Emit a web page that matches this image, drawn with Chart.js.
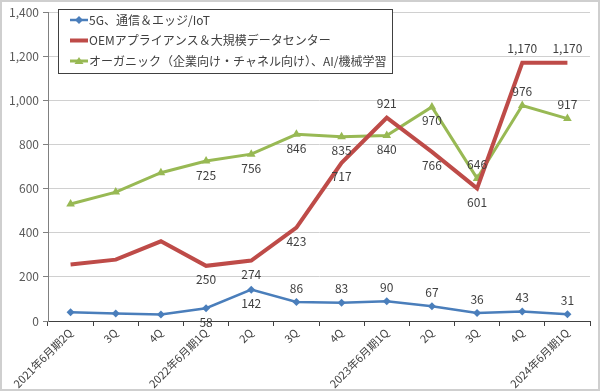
<!DOCTYPE html>
<html>
<head>
<meta charset="utf-8">
<script src="https://cdn.jsdelivr.net/npm/chart.js@4.4.1/dist/chart.umd.min.js"></script>
<style>
  html, body { margin: 0; padding: 0; background: #fff; }
  #wrap { position: relative; width: 600px; height: 391px; }
</style>
</head>
<body>
<div id="wrap"><canvas id="chart" width="600" height="391"></canvas></div>
<script>
// data
const categories = ['2021年6月期2Q', '3Q', '4Q', '2022年6月期1Q', '2Q', '3Q', '4Q', '2023年6月期1Q', '2Q', '3Q', '4Q', '2024年6月期1Q'];
const seriesNames = ['5G、通信＆エッジ/IoT', 'OEMアプライアンス＆大規模データセンター', 'オーガニック（企業向け・チャネル向け）、AI/機械学習'];
const iotValues = [40, 34, 29, 58, 142, 86, 83, 90, 67, 36, 43, 31];
const oemValues = [256, 278, 361, 250, 274, 423, 717, 921, 766, 601, 1170, 1170];
const organicValues = [530, 584, 672, 725, 756, 846, 835, 840, 970, 646, 976, 917];
const yTicks = [0, 200, 400, 600, 800, 1000, 1200, 1400];

// where the value labels go (null = no label)
const iotLabelPos = [null, null, null, 'below', 'below', 'above', 'above', 'above', 'above', 'above', 'above', 'above'];
const oemLabelPos = [null, null, null, 'below', 'below', 'below', 'below', 'above', 'below', 'below', 'above', 'above'];
const organicLabelPos = [null, null, null, 'below', 'below', 'below', 'below', 'below', 'below', 'above', 'above', 'above'];

const BLUE = '#4a7ebb';
const RED = '#be4b48';
const GREEN = '#98b954';
const FONT = "'Noto Sans CJK JP', 'Noto Sans', sans-serif";

const fmt = v => v.toLocaleString('en-US');

// value labels
const valueLabels = {
  id: 'valueLabels',
  afterDatasetsDraw(chart) {
    const ctx = chart.ctx;
    const positions = [iotLabelPos, oemLabelPos, organicLabelPos];
    ctx.save();
    ctx.font = '12px ' + FONT;
    ctx.fillStyle = '#404040';
    ctx.textAlign = 'center';
    ctx.textBaseline = 'middle';
    chart.data.datasets.forEach((ds, i) => {
      const meta = chart.getDatasetMeta(i);
      meta.data.forEach((pt, j) => {
        const pos = positions[i][j];
        if (!pos) return;
        const dy = pos === 'above' ? -14 : 14;
        ctx.fillText(fmt(ds.data[j]), pt.x, pt.y + dy);
      });
    });
    ctx.restore();
  }
};

// legend box like the original (line sample with marker)
const boxLegend = {
  id: 'boxLegend',
  afterDraw(chart) {
    const ctx = chart.ctx;
    const x0 = 58, y0 = 9, w = 334, h = 64;
    ctx.save();
    ctx.fillStyle = '#fff';
    ctx.fillRect(x0, y0, w, h);
    ctx.strokeStyle = '#404040';
    ctx.lineWidth = 1;
    ctx.strokeRect(x0 + 0.5, y0 + 0.5, w, h);
    ctx.font = '12px ' + FONT;
    ctx.textBaseline = 'middle';
    chart.data.datasets.forEach((ds, i) => {
      const y = y0 + 11 + i * 20.5;
      ctx.strokeStyle = ds.borderColor;
      ctx.lineWidth = ds.borderWidth;
      ctx.beginPath();
      ctx.moveTo(70, y);
      ctx.lineTo(88, y);
      ctx.stroke();
      ctx.fillStyle = ds.borderColor;
      if (ds.pointStyle === 'rectRot') {
        ctx.beginPath();
        ctx.moveTo(79, y - 4); ctx.lineTo(83, y); ctx.lineTo(79, y + 4); ctx.lineTo(75, y);
        ctx.closePath(); ctx.fill();
      } else if (ds.pointStyle === 'triangle') {
        ctx.beginPath();
        ctx.moveTo(79, y - 4); ctx.lineTo(83.5, y + 3); ctx.lineTo(74.5, y + 3);
        ctx.closePath(); ctx.fill();
      }
      ctx.fillStyle = '#404040';
      ctx.fillText(ds.label, 89, y);
    });
    ctx.restore();
  }
};

const frame = {
  id: 'frame',
  beforeDraw(chart) {
    const ctx = chart.ctx;
    ctx.save();
    ctx.fillStyle = '#fff';
    ctx.fillRect(0, 0, chart.width, chart.height);
    ctx.strokeStyle = '#cfcfcf';
    ctx.lineWidth = 2;
    ctx.strokeRect(1, 1, chart.width - 2, chart.height - 2);
    ctx.restore();
  }
};

new Chart(document.getElementById('chart'), {
  type: 'line',
  data: {
    labels: categories,
    datasets: [
      {
        label: seriesNames[0],
        data: iotValues,
        borderColor: BLUE,
        backgroundColor: BLUE,
        borderWidth: 2.5,
        pointStyle: 'rectRot',
        pointRadius: 4,
        pointBorderWidth: 0,
        tension: 0
      },
      {
        label: seriesNames[1],
        data: oemValues,
        borderColor: RED,
        backgroundColor: RED,
        borderWidth: 4,
        pointRadius: 0,
        tension: 0
      },
      {
        label: seriesNames[2],
        data: organicValues,
        borderColor: GREEN,
        backgroundColor: GREEN,
        borderWidth: 3,
        pointStyle: 'triangle',
        pointRadius: 5,
        pointBorderWidth: 0,
        tension: 0
      }
    ]
  },
  options: {
    responsive: false,
    animation: false,
    layout: { padding: { left: 4, right: 10, top: 12, bottom: 0 } },
    plugins: {
      legend: { display: false },
      tooltip: { enabled: false }
    },
    scales: {
      x: {
        offset: true,
        afterFit: axis => { axis.height = 70; },
        grid: {
          display: true,
          offset: true,
          drawOnChartArea: false,
          drawTicks: true,
          tickLength: 5,
          color: '#404040'
        },
        border: { color: '#404040', width: 1 },
        ticks: {
          autoSkip: false,
          maxRotation: 45,
          minRotation: 45,
          color: '#404040',
          font: { family: FONT, size: 11 },
          padding: 0
        }
      },
      y: {
        min: 0,
        max: 1400,
        afterBuildTicks: axis => { axis.ticks = yTicks.map(v => ({ value: v })); },
        afterFit: axis => { axis.width = 44; },
        grid: {
          color: '#d0d0d0',
          tickLength: 5,
          tickColor: '#808080'
        },
        border: { color: '#808080', width: 1 },
        ticks: {
          color: '#595959',
          font: { family: FONT, size: 12 },
          padding: 4,
          callback: v => fmt(v)
        }
      }
    }
  },
  plugins: [frame, valueLabels, boxLegend]
});
</script>
</body>
</html>
